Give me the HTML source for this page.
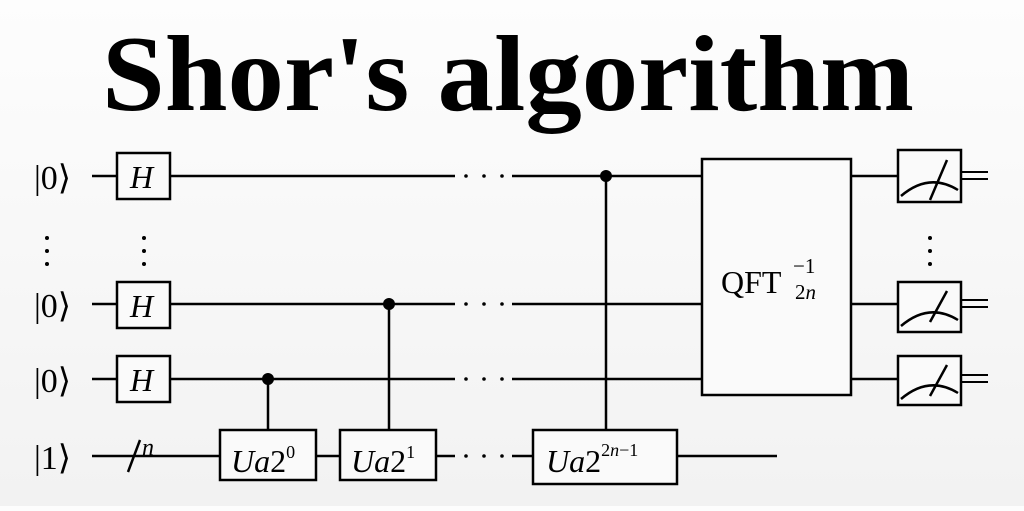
<!DOCTYPE html>
<html><head><meta charset="utf-8"><style>
html,body{margin:0;padding:0;}
body{width:1024px;height:506px;overflow:hidden;background:linear-gradient(#fdfdfd,#f2f2f2);}
svg text{font-family:"Liberation Serif",serif;}
</style></head><body>
<svg width="1024" height="506" viewBox="0 0 1024 506" xmlns="http://www.w3.org/2000/svg">
<text x="102" y="110" font-size="108" font-weight="bold" textLength="812" lengthAdjust="spacingAndGlyphs">Shor's algorithm</text>
<g stroke="#000" stroke-width="2.5" fill="none">
<line x1="92" y1="176" x2="117" y2="176"/><line x1="170" y1="176" x2="455" y2="176"/><line x1="512" y1="176" x2="702" y2="176"/>
<line x1="92" y1="304" x2="117" y2="304"/><line x1="170" y1="304" x2="455" y2="304"/><line x1="512" y1="304" x2="702" y2="304"/>
<line x1="92" y1="379" x2="117" y2="379"/><line x1="170" y1="379" x2="455" y2="379"/><line x1="512" y1="379" x2="702" y2="379"/>
<line x1="92" y1="456" x2="220" y2="456"/><line x1="316" y1="456" x2="340" y2="456"/><line x1="436" y1="456" x2="455" y2="456"/><line x1="512" y1="456" x2="533" y2="456"/><line x1="677" y1="456" x2="777" y2="456"/>
<line x1="851" y1="176" x2="898" y2="176"/><line x1="851" y1="304" x2="898" y2="304"/><line x1="851" y1="379" x2="898" y2="379"/>
<line x1="128" y1="472" x2="140" y2="440"/>
<rect x="117" y="153" width="53" height="46" fill="#fafafa"/>
<rect x="117" y="282" width="53" height="46" fill="#fafafa"/>
<rect x="117" y="356" width="53" height="46" fill="#fafafa"/>
<line x1="268" y1="379" x2="268" y2="430"/>
<line x1="389" y1="304" x2="389" y2="430"/>
<line x1="606" y1="176" x2="606" y2="430"/>
<rect x="220" y="430" width="96" height="50" fill="#fafafa"/>
<rect x="340" y="430" width="96" height="50" fill="#fafafa"/>
<rect x="533" y="430" width="144" height="54" fill="#fafafa"/>
<rect x="702" y="159" width="149" height="236" fill="#fafafa"/>
<rect x="898" y="150" width="63" height="52" fill="#fafafa"/>
<rect x="898" y="282" width="63" height="50" fill="#fafafa"/>
<rect x="898" y="356" width="63" height="49" fill="#fafafa"/>
<path d="M901 196 Q929 172 958 190"/><line x1="930" y1="200" x2="947" y2="160"/>
<path d="M901 326 Q929 302 958 320"/><line x1="930" y1="322" x2="947" y2="291"/>
<path d="M901 399 Q929 375 958 393"/><line x1="930" y1="396" x2="947" y2="365"/>
<g stroke-width="2">
<line x1="961" y1="172" x2="988" y2="172"/><line x1="961" y1="179" x2="988" y2="179"/>
<line x1="961" y1="300" x2="988" y2="300"/><line x1="961" y1="307" x2="988" y2="307"/>
<line x1="961" y1="375" x2="988" y2="375"/><line x1="961" y1="382" x2="988" y2="382"/>
</g>
</g>
<g fill="#000">
<circle cx="268" cy="379" r="6"/><circle cx="389" cy="304" r="6"/><circle cx="606" cy="176" r="6"/>
<circle cx="47" cy="238" r="2"/><circle cx="47" cy="251" r="2"/><circle cx="47" cy="264" r="2"/>
<circle cx="144" cy="238" r="2"/><circle cx="144" cy="251" r="2"/><circle cx="144" cy="264" r="2"/>
<circle cx="930" cy="238" r="2"/><circle cx="930" cy="251" r="2"/><circle cx="930" cy="264" r="2"/>
<circle cx="466" cy="176" r="1.8"/><circle cx="484" cy="176" r="1.8"/><circle cx="502" cy="176" r="1.8"/>
<circle cx="466" cy="304" r="1.8"/><circle cx="484" cy="304" r="1.8"/><circle cx="502" cy="304" r="1.8"/>
<circle cx="466" cy="379" r="1.8"/><circle cx="484" cy="379" r="1.8"/><circle cx="502" cy="379" r="1.8"/>
<circle cx="466" cy="456" r="1.8"/><circle cx="484" cy="456" r="1.8"/><circle cx="502" cy="456" r="1.8"/>
</g>
<g font-size="34" fill="#000">
<text x="34" y="189">|0⟩</text>
<text x="34" y="317">|0⟩</text>
<text x="34" y="392">|0⟩</text>
<text x="34" y="469">|1⟩</text>
<text x="130" y="188" font-style="italic" font-size="32">H</text>
<text x="130" y="317" font-style="italic" font-size="32">H</text>
<text x="130" y="391" font-style="italic" font-size="32">H</text>
<text x="142" y="455" font-size="24" font-style="italic">n</text>
<text x="231" y="472" font-style="italic" font-size="32">Ua<tspan font-style="normal">2</tspan><tspan font-style="normal" font-size="18" dy="-14">0</tspan></text>
<text x="351" y="472" font-style="italic" font-size="32">Ua<tspan font-style="normal">2</tspan><tspan font-style="normal" font-size="18" dy="-14">1</tspan></text>
<text x="546" y="472" font-style="italic" font-size="32">Ua<tspan font-style="normal">2</tspan><tspan font-style="normal" font-size="18" dy="-16">2</tspan><tspan font-size="18">n</tspan><tspan font-style="normal" font-size="18">−1</tspan></text>
<text x="721" y="293" font-size="32">QFT</text><text x="793" y="273" font-size="21">−1</text><text x="795" y="299" font-size="21">2<tspan font-style="italic">n</tspan></text>
</g>
</svg>
</body></html>
